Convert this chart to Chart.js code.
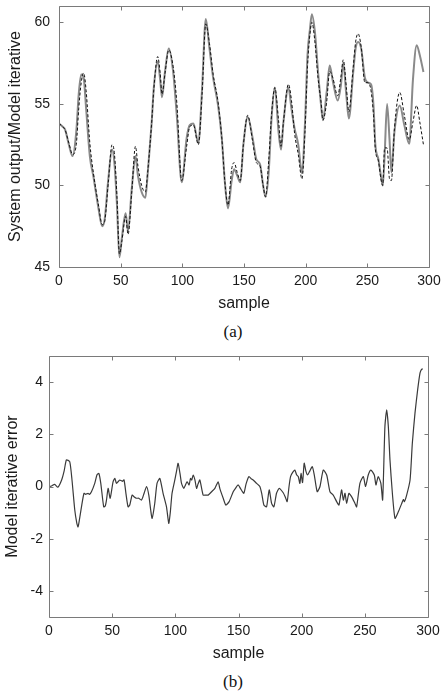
<!DOCTYPE html>
<html>
<head>
<meta charset="utf-8">
<script src="https://cdn.jsdelivr.net/npm/chart.js@4.4.1/dist/chart.umd.min.js"></script>
<style>
  html, body { margin: 0; padding: 0; background: #fff; }
  body { width: 448px; height: 698px; position: relative; overflow: hidden; }
  .wrap { position: absolute; left: 0; width: 448px; }
  #topWrap { top: 0; height: 320px; }
  #botWrap { top: 340px; height: 330px; }
  .cap { position: absolute; left: 0; width: 466px; text-align: center;
         font-family: "Liberation Serif", "Times New Roman", serif; font-size: 17px; color: #111; }
</style>
</head>
<body>
<div class="wrap" id="topWrap"><canvas id="chartA" width="448" height="320"></canvas></div>
<div class="cap" style="top:322px">(a)</div>
<div class="wrap" id="botWrap"><canvas id="chartB" width="448" height="330"></canvas></div>
<div class="cap" style="top:672px">(b)</div>
<script>
// (a) system output vs model iterative
const sampleA = [0, 3, 5, 8, 11, 14, 16, 18, 20, 22, 25, 28, 32, 35, 37, 40, 43, 45, 47, 49,
  51, 54, 56, 59, 62, 64, 67, 70, 72, 75, 77, 80, 82, 83.5, 86, 89, 92.5, 95.5, 99.5, 103.5,
  106, 109, 113, 116, 119, 122, 125, 129, 132, 134.5, 137, 140, 142, 144.5, 147, 149.5, 153, 157, 160, 163,
  165.5, 167.5, 170, 172.5, 175, 178, 180, 182, 186, 188.5, 191, 194, 197, 199.5, 201.5, 203.5, 205, 207.5, 210, 212.5,
  214, 217, 219.5, 222, 226, 228.5, 230.5, 233, 235, 238.5, 240.5, 242.5, 245, 248, 250.5, 253, 255, 256.5, 259, 261,
  262.5, 264, 266, 268, 269.5, 272, 276.3, 280, 284, 287, 290, 292.5, 295.5];
const systemOutput = [53.8, 53.6, 53.4, 52.5, 51.8, 53.3, 55.6, 56.8, 56.6, 54.7, 51.8, 50.5, 48.6, 47.5, 47.9, 50.4, 52.2, 51.3, 48.8, 45.6,
  46.8, 48.3, 47.2, 49.8, 51.8, 50.6, 49.6, 49.25, 50.8, 53.7, 56.1, 57.6, 56.5, 55.4, 57.0, 58.4, 57.0, 54.3, 50.2, 52.9,
  53.7, 53.8, 52.6, 55.9, 60.2, 58.4, 56.6, 54.9, 52.9, 50.2, 48.6, 50.3, 51.0, 50.6, 50.2, 52.5, 54.2, 52.9, 51.6, 51.3,
  50.0, 49.3, 50.8, 54.3, 56.0, 53.3, 52.2, 53.9, 56.0, 54.7, 53.5, 52.5, 50.75, 53.9, 58.0, 59.6, 60.5, 59.4, 57.0, 54.9,
  54.0, 55.7, 57.35, 56.4, 55.2, 56.1, 57.5, 55.5, 54.1, 56.9, 58.4, 58.8, 58.4, 56.6, 56.3, 56.2, 54.9, 52.5, 51.6, 50.6,
  50.0, 51.8, 55.0, 52.8, 50.8, 53.3, 54.9, 53.7, 52.55, 56.5, 58.6, 58.0, 56.95];
const modelIterative = [53.8, 53.6, 53.4, 52.6, 51.9, 52.5, 54.7, 56.3, 56.9, 55.8, 52.6, 50.7, 48.8, 47.6, 47.8, 50.2, 52.5, 51.9, 49.3, 45.8,
  46.6, 48.1, 47.0, 49.6, 52.4, 51.2, 50.0, 49.6, 50.9, 53.7, 56.0, 57.9, 56.9, 55.6, 56.9, 58.3, 57.3, 55.1, 50.3, 52.4,
  53.6, 53.7, 52.5, 55.6, 59.9, 58.7, 56.8, 55.1, 52.9, 50.2, 48.8, 51.0, 51.4, 50.8, 50.3, 52.5, 54.3, 52.7, 51.4, 51.2,
  50.0, 49.3, 51.5, 54.5, 56.0, 54.0, 52.4, 53.9, 56.2, 55.2, 53.2, 51.9, 50.4, 53.4, 57.3, 59.3, 60.0, 58.8, 56.6, 55.1,
  54.0, 55.1, 57.0, 56.6, 55.5, 56.6, 57.7, 56.0, 54.5, 57.2, 58.8, 59.3, 58.5, 56.3, 56.3, 55.8, 54.3, 52.2, 51.5, 50.4,
  50.0, 52.3, 52.3, 50.4, 50.3, 53.5, 55.7, 54.3, 52.8, 53.9, 54.9, 53.9, 52.5];

// (b) model iterative error
const sampleB = [0, 2, 4.5, 7, 10, 12, 13.8, 16.4, 18.2, 20.4, 22, 23, 24, 25.7, 27.7, 29, 30.9, 32, 33.6, 36.2,
  38, 39.5, 41, 43.3, 44.5, 45.5, 46.8, 48.4, 50.7, 52.1, 53.4, 55, 56, 58, 59.4, 61, 62.6, 64, 65.8, 67.5,
  69.2, 71, 73.2, 75, 77.2, 79, 80.5, 81.6, 83.7, 85.5, 87.7, 90.3, 93, 94.8, 96, 97.4, 99.6, 101, 102.2, 104,
  104.9, 106.7, 109.3, 110.9, 112, 113, 114.1, 115.5, 116.8, 118, 119.4, 122, 124, 126, 128.7, 131.3, 133.9, 135.2, 137.9, 140,
  142.6, 145.8, 147.6, 149.7, 151.5, 154.2, 156, 158.2, 160, 161.6, 164.3, 166.9, 168.5, 170.1, 172.2, 174.3, 176.2, 178, 180.1, 182.2,
  185.4, 187, 188.5, 190, 191.2, 193, 194.6, 196, 197.3, 198.6, 199.5, 200.7, 202, 203.3, 204.7, 206.5, 208.4, 210, 212.3, 214.5,
  217.1, 219.8, 222.4, 225, 227.7, 229.5, 231.6, 233, 234.3, 235.6, 237.4, 239.5, 242.2, 243.5, 246.1, 248.8, 250.6, 252.7, 254.8, 257.5,
  258.8, 260.6, 262.7, 264.1, 265.9, 267.3, 268.6, 269.9, 271.8, 273.9, 276.5, 279.2, 280.5, 281.3, 283.1, 285.8, 287.6, 289.7, 291.8, 293.7,
  295, 296];
const iterError = [0.0, 0.02, 0.08, -0.03, 0.25, 0.6, 1.02, 0.95, 0.25, -0.9, -1.4, -1.55, -1.3, -0.78, -0.26, -0.3, -0.26, -0.3, -0.2, 0.12,
  0.45, 0.5, 0.12, -0.78, -0.75, -0.52, -0.07, -0.45, 0.18, 0.31, 0.12, 0.2, 0.25, 0.2, 0.25, -0.3, -0.78, -0.7, -0.33, -0.4,
  -0.45, -0.45, -0.52, -0.3, 0.0, -0.33, -0.9, -1.22, -0.65, 0.12, 0.31, -0.26, -0.78, -1.41, -1.0, -0.26, 0.25, 0.6, 0.89, 0.4,
  0.12, -0.07, 0.18, 0.06, 0.31, 0.25, 0.44, 0.25, -0.07, 0.1, 0.25, -0.33, -0.33, -0.33, -0.2, -0.07, 0.18, -0.07, -0.45, -0.71,
  -0.58, -0.2, -0.07, 0.06, -0.07, -0.26, 0.1, 0.38, 0.3, 0.25, 0.12, 0.0, -0.3, -0.71, -0.78, -0.13, -0.65, -0.78, -0.26, -0.07,
  -0.24, -0.4, -0.58, 0.0, 0.38, 0.55, 0.63, 0.45, 0.38, 0.12, 0.5, 0.15, 0.89, 0.6, 0.44, 0.6, 0.76, 0.44, -0.2, 0.0,
  0.63, 0.44, -0.2, -0.33, -0.58, -0.71, -0.13, -0.52, -0.26, -0.65, -0.26, -0.39, -0.65, -0.78, 0.12, 0.38, 0.0, 0.44, 0.63, 0.44,
  0.06, 0.38, 0.12, -0.52, 2.3, 2.94, 2.3, 1.02, -0.26, -1.22, -0.97, -0.65, -0.5, -0.58, -0.33, 0.25, 1.66, 2.81, 3.7, 4.35,
  4.5, 4.5];

const xTicks = [0, 50, 100, 150, 200, 250, 300];
const yTicksA = [45, 50, 55, 60];
const yTicksB = [-4, -2, 0, 2, 4];

const FONT = '"Liberation Sans", Arial, sans-serif';
const textColor = '#1a1a1a';

function toPoints(xs, ys) {
    return xs.map((x, i) => ({ x: x, y: ys[i] }));
}

// matlab-like box with inward ticks on all four sides
const boxTicks = {
    id: 'boxTicks',
    afterDatasetsDraw(chart) {
        const { ctx, chartArea: a, scales } = chart;
        const L = Math.round(a.left) + 0.5, R = Math.round(a.right) + 0.5;
        const T = Math.round(a.top) + 0.5, B = Math.round(a.bottom) + 0.5;
        const len = 4;
        ctx.save();
        ctx.strokeStyle = '#7a7a7a';
        ctx.lineWidth = 1;
        ctx.beginPath();
        ctx.rect(L, T, R - L, B - T);
        scales.x.ticks.forEach(t => {
            const px = Math.round(scales.x.getPixelForValue(t.value)) + 0.5;
            ctx.moveTo(px, B); ctx.lineTo(px, B - len);
            ctx.moveTo(px, T); ctx.lineTo(px, T + len);
        });
        scales.y.ticks.forEach(t => {
            const py = Math.round(scales.y.getPixelForValue(t.value)) + 0.5;
            ctx.moveTo(L, py); ctx.lineTo(L + len, py);
            ctx.moveTo(R, py); ctx.lineTo(R - len, py);
        });
        ctx.stroke();
        ctx.restore();
    }
};

function makeOptions(cfg) {
    return {
        responsive: false,
        animation: false,
        devicePixelRatio: 1,
        layout: { padding: { top: cfg.padTop, right: cfg.padRight, left: 0, bottom: 0 } },
        plugins: { legend: { display: false }, tooltip: { enabled: false } },
        elements: { point: { radius: 0 } },
        scales: {
            x: {
                type: 'linear', min: 0, max: 300,
                grid: { display: false, drawTicks: false },
                border: { display: false },
                afterBuildTicks: s => { s.ticks = xTicks.map(v => ({ value: v })); },
                afterFit: s => { s.height = cfg.xHeight; s.paddingLeft = 0; s.paddingRight = 0; },
                ticks: { padding: 6, maxRotation: 0, color: textColor, font: { family: FONT, size: 14 } },
                title: { display: true, text: 'sample', color: textColor,
                         padding: { top: 0, bottom: 7 }, font: { family: FONT, size: 16 } }
            },
            y: {
                min: cfg.yMin, max: cfg.yMax,
                grid: { display: false, drawTicks: false },
                border: { display: false },
                afterBuildTicks: s => { s.ticks = cfg.yTicks.map(v => ({ value: v })); },
                afterFit: s => { s.width = cfg.yWidth; s.paddingTop = 0; s.paddingBottom = 0; },
                ticks: { padding: cfg.yPad, color: textColor, font: { family: FONT, size: 14 } },
                title: { display: true, text: cfg.yTitle, color: textColor,
                         padding: { top: cfg.titlePad, bottom: 0 }, font: { family: FONT, size: 16 } }
            }
        }
    };
}

new Chart(document.getElementById('chartA'), {
    type: 'line',
    data: {
        datasets: [
            {
                label: 'Model iterative',
                data: toPoints(sampleA, modelIterative),
                borderColor: '#111',
                borderWidth: 1,
                borderDash: [3, 2],
                cubicInterpolationMode: 'monotone',
                order: 0
            },
            {
                label: 'System output',
                data: toPoints(sampleA, systemOutput),
                borderColor: '#8a8a8a',
                borderWidth: 2,
                cubicInterpolationMode: 'monotone',
                order: 1
            }
        ]
    },
    options: makeOptions({ padTop: 6, padRight: 19, xHeight: 53, yWidth: 59, yMin: 45, yMax: 61,
                           yTicks: yTicksA, yPad: 9, titlePad: 6, yTitle: 'System output/Model iterative' }),
    plugins: [boxTicks]
});

new Chart(document.getElementById('chartB'), {
    type: 'line',
    data: {
        datasets: [{
            label: 'Model iterative error',
            data: toPoints(sampleB, iterError),
            borderColor: '#3a3a3a',
            borderWidth: 1.2,
            tension: 0.2
        }]
    },
    options: makeOptions({ padTop: 16, padRight: 20, xHeight: 53, yWidth: 49, yMin: -5, yMax: 5,
                           yTicks: yTicksB, yPad: 6, titlePad: 3, yTitle: 'Model iterative error' }),
    plugins: [boxTicks]
});
</script>
</body>
</html>
